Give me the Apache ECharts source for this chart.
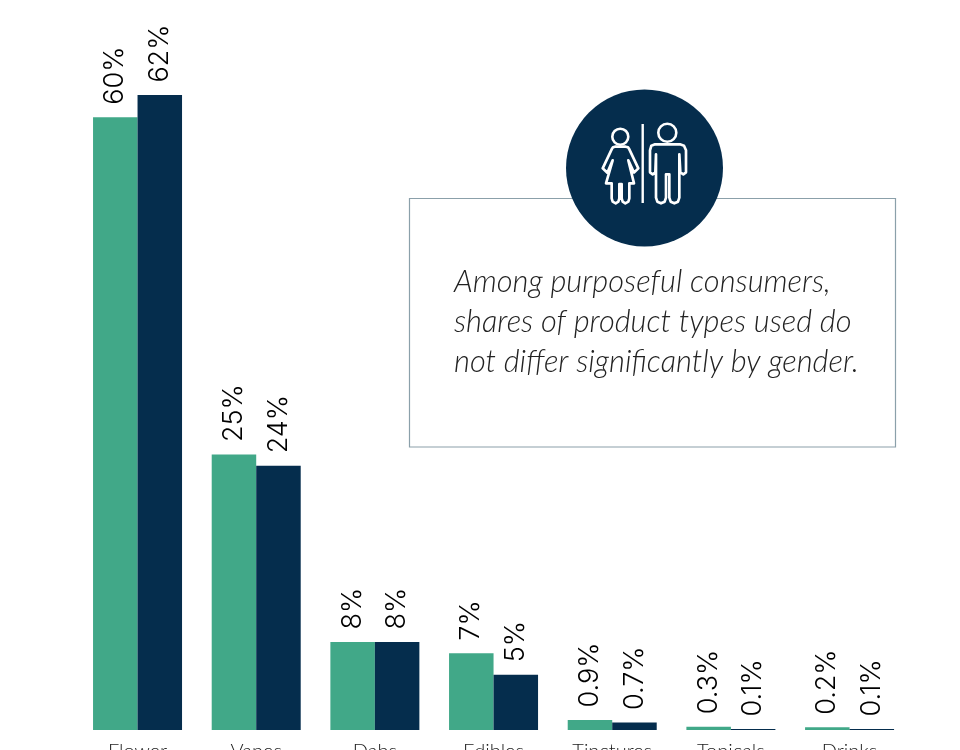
<!DOCTYPE html>
<html><head><meta charset="utf-8">
<style>html,body{margin:0;padding:0;background:#fff}#c{width:960px;height:750px}</style>
<script src="https://cdn.jsdelivr.net/npm/echarts@6/dist/echarts.min.js"></script>
</head><body><div id="c"></div>
<script>
const categories = ['Flower','Vapes','Dabs','Edibles','Tinctures','Topicals','Drinks'];
// Bar heights as drawn in the picture
const womenHeights = [59.85, 26.9, 8.6, 7.5, 0.98, 0.32, 0.26];
const menHeights   = [62, 25.8, 8.6, 5.4, 0.73, 0.1, 0.1];
// Value labels as printed in the picture
const womenLabels = ['60%','25%','8%','7%','0.9%','0.3%','0.2%'];
const menLabels   = ['62%','24%','8%','5%','0.7%','0.1%','0.1%'];
const noteLines = ['Among purposeful consumers,','shares of product types used do','not differ significantly by gender.'];

const GREEN = '#41a888', NAVY = '#052d4d', INK = '#222222';
const labelFor = arr => ({
  show: true, position: 'top', distance: 14, offset: [-1.5, 0], rotate: 90, align: 'left', verticalAlign: 'middle',
  fontFamily: 'Inter', fontWeight: 300, fontSize: 27, color: '#000',
  formatter: p => arr[p.dataIndex]
});
const iconBase = {x: 560, y: 85, scaleX: 1/3, scaleY: 1/3, z: 12,
  style: {fill: 'none', stroke: '#fff', lineWidth: 8, lineJoin: 'round'}};
const womanPts = [[165,185],[197,185],[204,187],[208,193],[235,250],[222,263],[205,226],[222,295],[208,295],[208,340],[205,350],[196,355],[188,350],[185,340],[185,297],[178,297],[178,340],[175,350],[167,355],[158,350],[155,340],[155,295],[138,295],[158,226],[142,263],[128,250],[155,193],[159,187]];
const manPts = [[285,178],[360,178],[372,182],[378,196],[378,262],[370,268],[361,262],[358,208],[358,338],[354,350],[343,355],[332,350],[328,338],[328,268],[318,268],[318,338],[314,350],[303,355],[292,350],[288,338],[288,208],[286,262],[278,268],[270,262],[270,196],[274,182]];

const chart = echarts.init(document.getElementById('c'), null, {renderer: 'canvas'});
chart.setOption({
  animation: false,
  backgroundColor: '#fff',
  grid: {left: 78.2, right: 51.1, top: 13.2, bottom: 20, containLabel: false, outerBoundsMode: 'none'},
  xAxis: {
    type: 'category', data: categories,
    axisLine: {show: false}, axisTick: {show: false},
    axisLabel: {margin: 12, fontFamily: 'Lato', fontWeight: 300, fontSize: 20, color: INK, interval: 0}
  },
  yAxis: {type: 'value', min: 0, max: 70, show: false, splitLine: {show: false}},
  series: [
    {name: 'Women', type: 'bar', data: womenHeights, barWidth: 44.5, barGap: 0,
     itemStyle: {color: GREEN}, label: labelFor(womenLabels)},
    {name: 'Men', type: 'bar', data: menHeights, barWidth: 44.5,
     itemStyle: {color: NAVY}, label: labelFor(menLabels)}
  ],
  graphic: {elements: [
    {type: 'rect', z: 10, shape: {x: 409.5, y: 198.5, width: 486, height: 248.5},
     style: {fill: '#fff', stroke: '#8ba0aa', lineWidth: 1.2}},
    {type: 'circle', z: 11, shape: {cx: 644.5, cy: 168, r: 78.5}, style: {fill: NAVY}},
    {type: 'circle', z: 12, shape: {cx: 620.3, cy: 136.7, r: 8}, style: {fill: 'none', stroke: '#fff', lineWidth: 2.6}},
    {type: 'circle', z: 12, shape: {cx: 667.3, cy: 132.7, r: 9}, style: {fill: 'none', stroke: '#fff', lineWidth: 2.6}},
    {type: 'line', z: 12, shape: {x1: 642.7, y1: 124, x2: 642.7, y2: 203}, style: {stroke: '#fff', lineWidth: 2.4}},
    Object.assign({type: 'polygon', shape: {points: womanPts}}, iconBase),
    Object.assign({type: 'polygon', shape: {points: manPts}}, iconBase),
    ...noteLines.map((t, i) => ({
      type: 'text', z: 12, x: 454, y: 282 + i * 40,
      style: {text: t, fill: INK, font: 'italic 300 30.8px Lato', verticalAlign: 'middle'}
    }))
  ]}
});
</script></body></html>
